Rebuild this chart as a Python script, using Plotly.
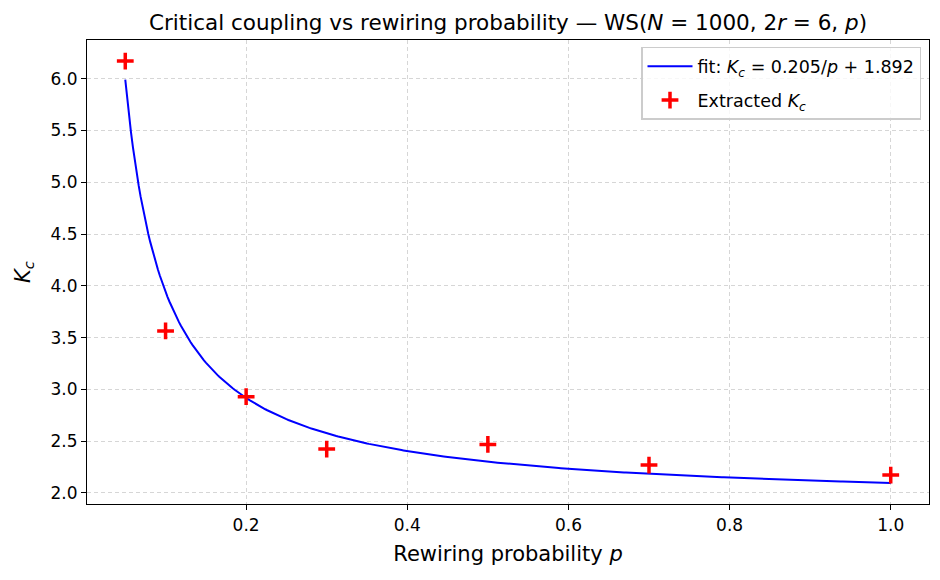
import numpy as np
import plotly.graph_objects as go

# Extracted data
p_values = [0.05, 0.1, 0.2, 0.3, 0.5, 0.7, 1.0]
kc_values = [6.17, 3.564, 2.929, 2.423, 2.468, 2.269, 2.172]

# Fit parameters (Kc = A/p + B)
fit_A = 0.205
fit_B = 1.892

x_ticks = [0.2, 0.4, 0.6, 0.8, 1.0]
y_ticks = [2.0, 2.5, 3.0, 3.5, 4.0, 4.5, 5.0, 5.5, 6.0]

p_fit = np.linspace(min(p_values), max(p_values), 400)
k_fit = fit_A / p_fit + fit_B

FONT = "DejaVu Sans"

fig = go.Figure()
fig.add_trace(go.Scatter(
    x=p_fit, y=k_fit, mode="lines",
    line=dict(color="blue", width=2),
    name="fit: <i>K<sub>c</sub></i> = 0.205/<i>p</i> + 1.892",
    legendgroup="a",
))
fig.add_trace(go.Scatter(
    x=p_values, y=kc_values, mode="markers",
    marker=dict(symbol="cross-thin", size=12, color="red",
                line=dict(color="red", width=3.5)),
    name="Extracted <i>K<sub>c</sub></i>",
    legendgroup="b",
))

axis_common = dict(
    showline=True, linecolor="black", linewidth=1.2, mirror=True,
    ticks="outside", ticklen=5, tickcolor="black", tickwidth=1.2,
    showgrid=True, gridcolor="#d6d6d6", griddash="4px,3px", gridwidth=1,
    zeroline=False, tickfont=dict(family=FONT, size=17, color="black"),
)

fig.update_layout(
    width=940, height=580,
    margin=dict(l=87, r=11, t=40, b=76),
    paper_bgcolor="white", plot_bgcolor="white",
    font=dict(family=FONT, color="black"),
    title=dict(
        text="Critical coupling vs rewiring probability — WS(<i>N</i> = 1000, 2<i>r</i> = 6, <i>p</i>)",
        x=0.5, xref="paper", xanchor="center", y=1, yref="paper", yanchor="bottom",
        pad=dict(b=10), font=dict(family=FONT, size=21.5, color="black"),
    ),
    xaxis=dict(
        range=[0.0025, 1.0475], tickvals=x_ticks, tickformat=".1f",
        title=dict(text="Rewiring probability <i>p</i>", font=dict(family=FONT, size=21), standoff=12),
        **axis_common,
    ),
    yaxis=dict(
        range=[1.893, 6.374], tickvals=y_ticks, tickformat=".1f",
        title=dict(text="<i>K<sub>c</sub></i>", font=dict(family=FONT, size=21), standoff=14),
        **axis_common,
    ),
    legend=dict(
        x=0.9905, y=0.985, xanchor="right", yanchor="top",
        bgcolor="rgba(255,255,255,0.8)", bordercolor="#cccccc", borderwidth=1.5,
        font=dict(family=FONT, size=17.5, color="black"),
        traceorder="grouped", tracegroupgap=8, itemwidth=45,
    ),
)

fig.write_html("out.html")
